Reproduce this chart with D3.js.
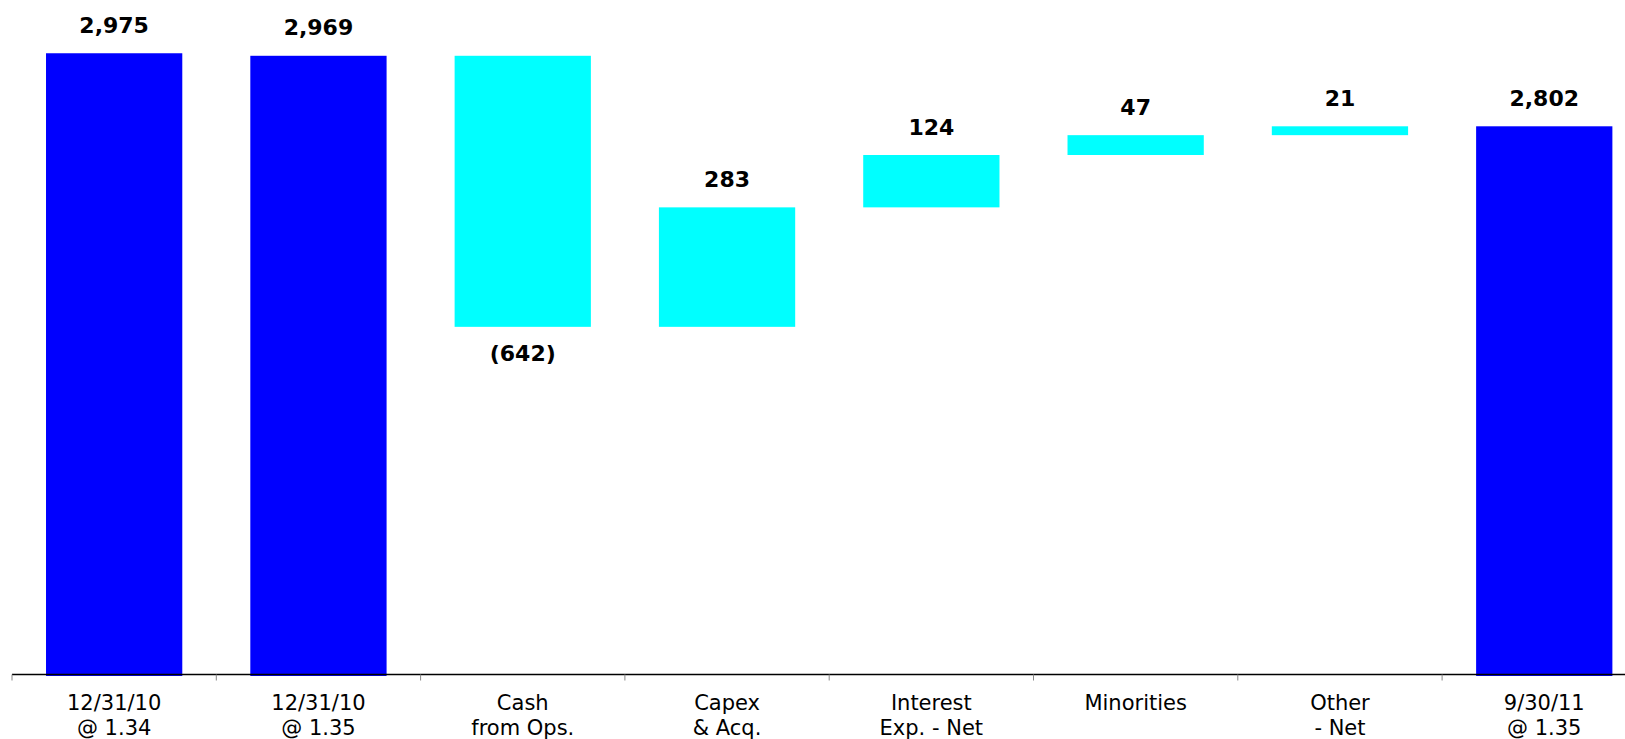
<!DOCTYPE html>
<html>
<head>
<meta charset="utf-8">
<script src="https://cdn.jsdelivr.net/npm/d3@7/dist/d3.min.js"></script>
<style>
  html, body { margin: 0; padding: 0; background: #fff; }
  svg { display: block; }
</style>
</head>
<body>
<svg id="chart" width="1625" height="739"></svg>
<script>
// ---- data ----
const categories = [
  ["12/31/10", "@ 1.34"],
  ["12/31/10", "@ 1.35"],
  ["Cash", "from Ops."],
  ["Capex", "& Acq."],
  ["Interest", "Exp. - Net"],
  ["Minorities"],
  ["Other", "- Net"],
  ["9/30/11", "@ 1.35"]
];
const values = [2975, 2969, -642, 283, 124, 47, 21, 2802];
const kinds = ["total", "total", "delta", "delta", "delta", "delta", "delta", "total"];
const valueLabels = ["2,975", "2,969", "(642)", "283", "124", "47", "21", "2,802"];
const yDomain = [1500, 3000];

// ---- build waterfall ----
let running = 0;
const bars = values.map((v, i) => {
  let lo, hi;
  if (kinds[i] === "total") {
    lo = yDomain[0]; hi = v; running = v;
  } else {
    const start = running; running = start + v;
    lo = Math.min(start, running); hi = Math.max(start, running);
  }
  return { i, v, lo, hi, kind: kinds[i], label: valueLabels[i], cat: categories[i] };
});

const svg = d3.select("#chart");
const axisY = 674.5;

const x = d3.scaleBand()
  .domain(d3.range(categories.length))
  .range([12, 1646.4])
  .paddingInner(0.333)
  .paddingOuter(0.1665);

const y = d3.scaleLinear().domain(yDomain).range([676, 42.7]);

// bars
svg.append("g").selectAll("rect").data(bars).join("rect")
  .attr("x", d => x(d.i))
  .attr("width", x.bandwidth())
  .attr("y", d => y(d.hi))
  .attr("height", d => y(d.lo) - y(d.hi))
  .attr("fill", d => d.kind === "total" ? "#0000FF" : "#00FFFF");

// axis line
const xr = x.range();
svg.append("line")
  .attr("x1", xr[0]).attr("x2", xr[1])
  .attr("y1", axisY).attr("y2", axisY)
  .attr("stroke", "#000").attr("stroke-width", 1.5);

// boundary ticks
const step = x.step();
const bounds = d3.range(categories.length + 1).map(k => xr[0] + k * step);
svg.append("g").selectAll("line").data(bounds).join("line")
  .attr("x1", d => d).attr("x2", d => d)
  .attr("y1", axisY).attr("y2", axisY + 6)
  .attr("stroke", "#888").attr("stroke-width", 1);

// category labels
const catG = svg.append("g")
  .attr("font-family", "'DejaVu Sans', Verdana, sans-serif")
  .attr("font-size", 21)
  .attr("fill", "#000")
  .attr("text-anchor", "middle");
catG.selectAll("text").data(bars).join("text")
  .attr("x", d => x(d.i) + x.bandwidth() / 2)
  .attr("y", 710)
  .selectAll("tspan").data(d => d.cat.map(t => ({ t, cx: x(d.i) + x.bandwidth() / 2 }))).join("tspan")
  .attr("x", d => d.cx)
  .attr("dy", (d, j) => j === 0 ? 0 : 25)
  .text(d => d.t);

// value labels
svg.append("g")
  .attr("font-family", "'DejaVu Sans', Verdana, sans-serif")
  .attr("font-size", 22)
  .attr("font-weight", "bold")
  .attr("fill", "#000")
  .attr("text-anchor", "middle")
  .selectAll("text").data(bars).join("text")
  .attr("x", d => x(d.i) + x.bandwidth() / 2)
  .attr("y", d => d.v < 0 ? y(d.lo) + 34 : y(d.hi) - 20.5)
  .text(d => d.label);
</script>
</body>
</html>
